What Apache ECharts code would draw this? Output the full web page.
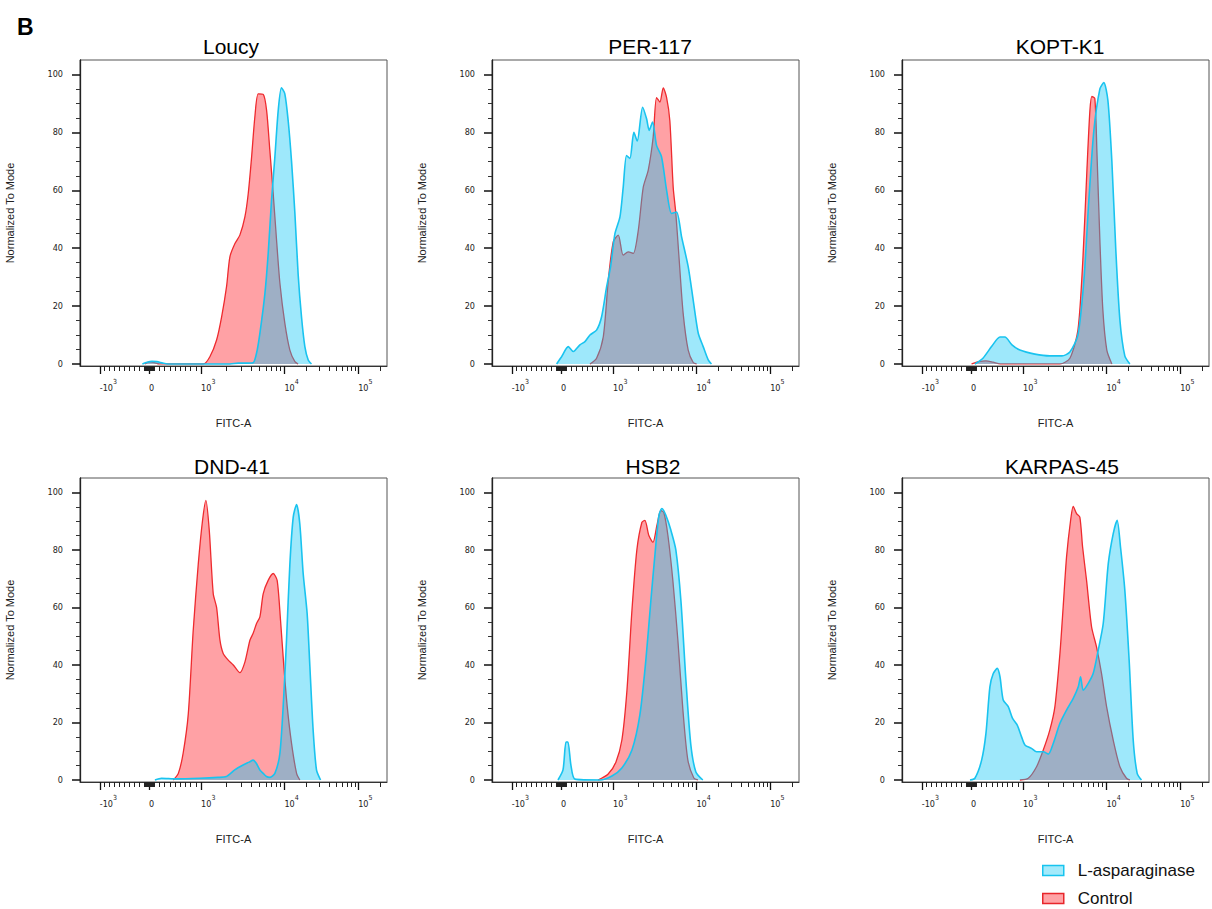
<!DOCTYPE html>
<html>
<head>
<meta charset="utf-8">
<title>FITC-A histograms</title>
<script src="https://cdn.jsdelivr.net/npm/echarts@6/dist/echarts.min.js"></script>
<style>
  html, body { margin: 0; padding: 0; background: #fff; }
  #main { width: 1212px; height: 909px; }
</style>
</head>
<body>
<div id="main"></div>
<script>
// panels, row by row
var cellLines = ['Loucy', 'PER-117', 'KOPT-K1', 'DND-41', 'HSB2', 'KARPAS-45'];
var seriesNames = ['L-asparaginase', 'Control'];

// x axis = biexponential display channel (0-256), labels at these decades
var decadeValues = [-1000, 0, 1000, 10000, 100000];
var decadeLabels = ['-10^3', '0', '10^3', '10^4', '10^5'];
var decadeChannels = [16.5, 57.5, 101, 170.5, 232];
var yLabels = [0, 20, 40, 60, 80, 100];

// histograms: [channel, % of mode]
var lAspLoucy = [[52,0],[56,0.6],[60,0.9],[64,0.8],[69,0.3],[73,0],[125,0],[132,0.3],[140,0.3],[144.4,0.4],[147.2,3.7],[150,10.6],[154.2,24.4],[156.9,38],[159.7,56.5],[162.5,71.5],[165.3,87.6],[168,95.4],[170.8,93.3],[173.6,84],[176.4,70],[179.2,52],[181.9,31],[184.7,16.3],[187.5,6],[190.3,1.4],[193,0]];
var ctrlLoucy = [[54,0],[58,0.7],[62,0.5],[66,0],[102.8,0],[108.3,2.5],[113.9,8.3],[118.1,16.3],[122.2,26.7],[125,37],[129.2,41.6],[133.3,44.5],[137.5,50.8],[140.3,58.9],[143.1,71.5],[145.8,85.3],[148.6,93.3],[152.8,93.1],[155.6,87.6],[158.3,73.8],[161.1,58.9],[163.9,42.8],[166.7,27.9],[170.8,14.1],[175,4.8],[179.2,0.8],[181.9,0]];

var lAspPer117 = [[53.9,0],[58,2.5],[63.6,6],[67.8,4.3],[73.3,6.6],[77.5,7.7],[81.7,10],[87.2,11.7],[91.4,16.3],[95.6,26.7],[98.9,33.6],[102.5,45],[106.7,50.8],[109.4,61],[112.2,72],[115,71],[118.3,80],[121.1,77],[125.6,88.7],[128.9,84.7],[131.1,80.7],[133.9,83.6],[137.2,75.5],[141.4,71.5],[145.6,60],[149.7,52],[153.9,52.5],[158.1,43.9],[163.6,33.6],[167.8,22],[172,10.6],[176.1,6],[180.3,1.4],[183,0]];
var ctrlPer117 = [[81.7,0],[87.2,2],[92.8,9.4],[97,29],[101.1,42.2],[105.3,44.5],[109.4,37.6],[113.6,38.7],[117.8,38.2],[122,46.2],[126.1,61],[130.3,67],[134.4,78.4],[137.2,92],[140,90.5],[142.8,95.4],[145.6,92],[148.3,84],[151.1,61],[153.3,52],[156.1,35.9],[159.4,17.5],[163.6,4.8],[167.8,0.5],[170.6,0]];

var lAspKopt = [[60.8,0],[67.5,2],[75,6.2],[81.7,9.3],[85.8,9.3],[91.7,6.6],[98.3,4.8],[110.8,3.4],[123.3,2.8],[133.3,2.8],[140,4.1],[146.7,10],[151.7,29],[155.8,56.6],[160,80.7],[165,95],[168.3,97.2],[171.7,91],[175,70],[178.3,39.3],[181.7,15.2],[185.8,2.8],[190,0]];
var ctrlKopt = [[58,0],[64,0.8],[70,1.1],[76,0.6],[82,0],[131.7,0],[140,2],[146.7,11.7],[150.8,35.9],[154.2,67],[156.7,87.6],[158.3,92.4],[160.8,91.7],[162.5,73.8],[165,42.8],[167.5,18.6],[170.8,4.8],[175,0]];

var lAspDnd = [[62.5,0],[68,0.6],[80,0.4],[100,0.6],[115,0.9],[122,1.2],[129,3.5],[136,5.2],[141,6.2],[144.4,6.9],[147,5.8],[150,3.5],[152.8,2.3],[155.5,1.2],[158.3,0.9],[162.5,2.3],[166.7,9.3],[170,30],[172.2,48.6],[175,75],[177.8,91.4],[180.6,95.8],[183.3,89],[186.1,71.8],[189.4,57.9],[191.7,39.4],[194.4,17.4],[197.2,3.5],[200.6,0]];
var ctrlDnd = [[77.8,0],[82,2.3],[86,9.3],[90.3,23],[94.4,52],[98.6,75],[102.2,90.3],[105,97.2],[107.8,86.8],[111.1,64.8],[113.9,60],[116.7,48.6],[119.4,44],[123.6,41.7],[127.8,40],[133.3,37.3],[137.5,41],[141.7,48.6],[144.4,51],[147.2,54.4],[150,56.7],[152.8,64.8],[156.9,69.4],[161.1,71.8],[164.4,69.4],[167.2,55.6],[170,39.4],[172.8,25.5],[176.4,12.7],[180.6,2.3],[183.3,0]];

var lAspHsb2 = [[55,0],[59.2,3.5],[61.7,13.2],[63.3,13.2],[65.8,5.2],[69.2,0.3],[90,0],[100,1.4],[108.3,4.2],[116.7,10.4],[123.3,22.6],[128.3,41.7],[132.5,62.5],[135.8,78],[139.2,92],[141.7,94.4],[145,92],[149.2,86.8],[153.3,80],[157.5,62.5],[161.7,34.7],[165.8,12.2],[170,2.8],[175.8,0]];
var ctrlHsb2 = [[88.3,0],[96.7,2],[103.3,6.2],[108.3,13.9],[112.5,31],[116.7,59],[120.8,80],[125,89.6],[127.5,90.3],[130.8,85],[134.2,82.6],[137.5,88.5],[140.8,93.7],[143.3,93],[146.7,85],[150.8,69.4],[155,48.6],[159.2,24.3],[163.3,7],[168.3,0.7],[171.7,0]];

var lAspKarpas = [[56.7,0],[60.8,0.6],[66.4,6.9],[70,16.2],[73.3,32.4],[76.1,37],[79.4,38.8],[81.7,35.9],[84.4,27.8],[88.6,25.5],[92.2,21.4],[96.1,19.1],[99.7,15],[102.5,12.2],[108,11],[112.2,9.8],[117.8,9.8],[122,9],[126.1,12.7],[131.7,19.7],[137.2,24.3],[142.8,28.4],[147,32.4],[148.9,35.9],[151.1,31.2],[155.3,33.6],[159.4,37],[163.6,45.1],[167.8,54.4],[172,75.2],[176.1,85.6],[179.4,90.3],[182.2,81],[185.8,66],[189.4,41.7],[192.8,13.9],[196.1,2.3],[199.7,0]];
var ctrlKarpas = [[98.3,0],[105.3,0.6],[112.2,4.6],[117.8,10.4],[123.3,17.4],[127.5,25.5],[131.7,44],[134.4,60.2],[137.2,77.5],[140.6,90.3],[142.8,95.1],[145.6,92.6],[148.3,91.4],[150.6,81],[153.9,69.4],[158.1,53.2],[162.2,46.3],[166.4,37],[170.6,25.5],[176.1,13.9],[181.7,4.6],[187.2,0.6],[190,0]];

var lAspData = [lAspLoucy, lAspPer117, lAspKopt, lAspDnd, lAspHsb2, lAspKarpas];
var ctrlData = [ctrlLoucy, ctrlPer117, ctrlKopt, ctrlDnd, ctrlHsb2, ctrlKarpas];

// value -> display channel (linear around zero, log above 10^3)
function toChannel(v) {
  var c = decadeChannels;
  if (v < 0) return c[1] + (v / 1000) * (c[1] - c[0]);
  if (v <= 1000) return c[1] + (v / 1000) * (c[2] - c[1]);
  var lg = Math.log10(v);
  if (lg <= 4) return c[2] + (lg - 3) * (c[3] - c[2]);
  return c[3] + (lg - 4) * (c[4] - c[3]);
}
var minorChannels = [];
[10, 100, 1000, 10000, 100000].forEach(function (dec) {
  for (var k = 1; k <= 9; k++) {
    if (dec <= 100) {
      minorChannels.push(toChannel(k * dec), toChannel(-k * dec));
    } else if (k > 1) {
      var ch = toChannel(k * dec);
      if (ch < 256) minorChannels.push(ch);
    }
  }
});
var yMinor = [];
for (var t = 5; t < 100; t += 5) if (t % 20) yMinor.push(t);

var font = 'Liberation Sans, Arial, sans-serif';
var narrow = 'Liberation Sans Narrow, Arial Narrow, DejaVu Sans Condensed, sans-serif';
var panelLeft = [80, 492, 902];
var panelTop = [60, 478];
var panelH = [306, 304];
var titleX = [226, 645, 1055, 227, 648, 1057];
var titleY = [31, 451];

var grids = [], xAxes = [], yAxes = [], series = [], titles = [];
titles.push({ text: 'B', left: 12, top: 10, textStyle: { fontSize: 23, fontWeight: 'bold', color: '#000', fontFamily: font } });

cellLines.forEach(function (name, i) {
  var row = Math.floor(i / 3), col = i % 3;
  grids.push({ left: panelLeft[col], top: panelTop[row], width: 307, height: panelH[row],
    show: true, borderColor: '#555', borderWidth: 1, backgroundColor: '#fff' });
  titles.push({ text: name, left: titleX[i], top: titleY[row], textAlign: 'center',
    textStyle: { fontSize: 21, fontWeight: 'normal', color: '#000', fontFamily: font } });

  // major x ticks + labels
  xAxes.push({
    type: 'value', gridIndex: i, min: 0, max: 256, position: 'bottom',
    name: 'FITC-A', nameLocation: 'middle', nameGap: 51,
    nameTextStyle: { fontSize: 11, color: '#222', fontFamily: font },
    axisLine: { onZero: false, lineStyle: { color: '#333', width: 1 } },
    axisTick: { customValues: decadeChannels, length: 8, lineStyle: { color: '#111', width: 1.3 } },
    axisLabel: {
      customValues: decadeChannels, margin: 12, align: 'left',
      formatter: function (val) {
        var best = 0;
        decadeChannels.forEach(function (c, k) { if (Math.abs(c - val) < Math.abs(decadeChannels[best] - val)) best = k; });
        var p = decadeLabels[best].split('^');
        return p.length > 1 ? '{b|' + p[0] + '}{e|' + p[1] + '}' : '{b|' + p[0] + '}';
      },
      rich: {
        b: { fontSize: 9, color: '#222', fontFamily: narrow, lineHeight: 14, verticalAlign: 'bottom' },
        e: { fontSize: 7, color: '#222', fontFamily: narrow, lineHeight: 14, verticalAlign: 'top' }
      }
    },
    splitLine: { show: false }
  });
  // minor x ticks
  xAxes.push({
    type: 'value', gridIndex: i, min: 0, max: 256, position: 'bottom',
    axisLine: { show: false, onZero: false },
    axisTick: { customValues: minorChannels, length: 5, lineStyle: { color: '#222', width: 1 } },
    axisLabel: { show: false }, splitLine: { show: false }
  });
  yAxes.push({
    type: 'value', gridIndex: i, min: -0.7, max: 105, position: 'left',
    name: 'Normalized To Mode', nameLocation: 'middle', nameGap: 65,
    nameTextStyle: { fontSize: 11, color: '#222', fontFamily: font },
    axisLine: { show: true, lineStyle: { color: '#222', width: 1.3 } },
    axisTick: { show: true, customValues: yLabels, length: 8, lineStyle: { color: '#111', width: 1.5 } },
    axisLabel: { customValues: yLabels, margin: 17, fontSize: 9, color: '#222', fontFamily: narrow },
    splitLine: { show: false }
  });
  yAxes.push({
    type: 'value', gridIndex: i, min: -0.7, max: 105, position: 'left',
    axisLine: { show: false },
    axisTick: { show: true, customValues: yMinor, length: 4, lineStyle: { color: '#333', width: 1 } },
    axisLabel: { show: false }, splitLine: { show: false }
  });

  series.push({
    name: 'Control', type: 'line', xAxisIndex: 2 * i, yAxisIndex: 2 * i,
    data: ctrlData[i], smooth: 0.25, showSymbol: false, symbol: 'none',
    lineStyle: { color: '#ee2a2e', width: 1.3 },
    areaStyle: { color: 'rgba(255,0,10,0.37)', opacity: 1 },
    z: 2
  });
  series.push({
    name: 'L-asparaginase', type: 'line', xAxisIndex: 2 * i, yAxisIndex: 2 * i,
    data: lAspData[i], smooth: 0.25, showSymbol: false, symbol: 'none',
    lineStyle: { color: '#19c3ef', width: 1.6 },
    areaStyle: { color: 'rgba(12,197,245,0.4)', opacity: 1 },
    z: 3
  });
});

var chart = echarts.init(document.getElementById('main'), null, { renderer: 'svg' });
chart.setOption({
  backgroundColor: '#fff',
  animation: false,
  title: titles,
  legend: {
    orient: 'vertical', left: 1042, top: 862, bottom: 0, padding: 0,
    itemWidth: 21, itemHeight: 10, itemGap: 11,
    textStyle: { fontSize: 17, lineHeight: 17, color: '#111', fontFamily: font, padding: [0, 0, 0, 9] },
    data: [
      { name: seriesNames[0], icon: 'rect', itemStyle: { color: '#a3eafb', borderColor: '#16c4ef', borderWidth: 1.5 } },
      { name: seriesNames[1], icon: 'rect', itemStyle: { color: '#ffa3a6', borderColor: '#e8262b', borderWidth: 1.5 } }
    ]
  },
  grid: grids,
  xAxis: xAxes,
  yAxis: yAxes,
  series: series
});
</script>
</body>
</html>
